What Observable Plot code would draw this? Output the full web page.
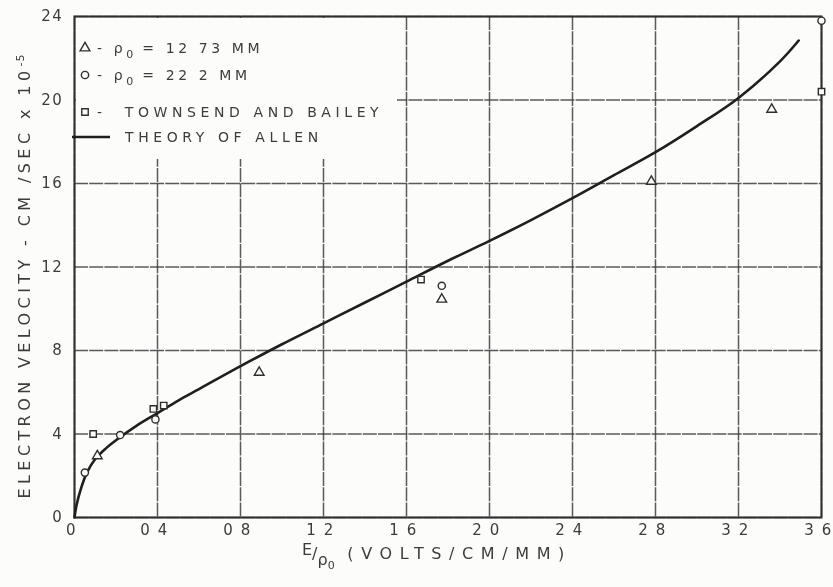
<!DOCTYPE html>
<html>
<head>
<meta charset="utf-8">
<script src="https://cdn.jsdelivr.net/npm/d3@7"></script>
<script src="https://cdn.jsdelivr.net/npm/@observablehq/plot@0.6"></script>
<style>
  html, body { margin: 0; padding: 0; background: #fcfcfb; }
  #wrap { position: relative; width: 833px; height: 587px; filter: blur(0.45px); color: #3c3c3c; font-family: "DejaVu Sans", sans-serif; }
  #wrap svg { position: absolute; left: 0; top: 0; }
  #legend { position: absolute; left: 76px; top: 18px; width: 321px; height: 141px; background: #fcfcfb; }
  .row { position: absolute; font-size: 14px; line-height: 16px; letter-spacing: 4.6px; white-space: nowrap; }
  .row.narrow { letter-spacing: 3.6px; }
  .row sub { font-size: 11px; vertical-align: -5px; letter-spacing: 1px; }
  .icon { position: absolute; }
  #ytitle { position: absolute; left: -246px; top: 266px; width: 540px; height: 20px; text-align: center;
            transform: rotate(-90deg); font-size: 16px; letter-spacing: 4.4px; white-space: nowrap; }
  #ytitle sup { font-size: 11px; letter-spacing: 1px; }
  #xtitle { position: absolute; left: 302px; top: 544px; font-size: 16px; letter-spacing: 7.6px; white-space: nowrap; }
  #xtitle .ep { letter-spacing: 0; }
</style>
</head>
<body>
<div id="wrap">
  <div id="ytitle">ELECTRON VELOCITY - CM /SEC x 10<sup>-5</sup></div>
  <div id="xtitle"><span class="ep" style="position:relative;top:-4px">E</span><span class="ep">/</span><span class="ep" style="position:relative;top:6px">ρ<sub style="font-size:11px">0</sub></span>&nbsp;(VOLTS/CM/MM)</div>
</div>
<script>
// Axis ticks and their printed labels
const xTicks = [0, 0.4, 0.8, 1.2, 1.6, 2.0, 2.4, 2.8, 3.2, 3.6];
const xTickLabels = ["0", "0 4", "0 8", "1 2", "1 6", "2 0", "2 4", "2 8", "3 2", "3 6"];
const yTicks = [0, 4, 8, 12, 16, 20, 24];
const yTickLabels = ["0", "4", "8", "12", "16", "20", "24"];

// Series names
const seriesNames = ["p0 = 12.73 MM", "p0 = 22.2 MM", "TOWNSEND AND BAILEY"];

// Measured drift velocities, p0 = 12.73 mm (triangles)
const seriesA_E = [0.11, 0.89, 1.77, 2.78, 3.36];
const seriesA_V = [2.95, 6.95, 10.45, 16.1, 19.55];

// Measured drift velocities, p0 = 22.2 mm (circles)
const seriesB_E = [0.05, 0.22, 0.39, 1.77, 3.6];
const seriesB_V = [2.15, 3.95, 4.7, 11.1, 23.8];

// Townsend and Bailey (squares)
const seriesC_E = [0.09, 0.38, 0.43, 1.67, 3.6];
const seriesC_V = [4.0, 5.2, 5.36, 11.4, 20.4];

// Theory of Allen
const theoryE = [0, 0.01, 0.03, 0.06, 0.1, 0.15, 0.2, 0.3, 0.4, 0.5, 0.6, 0.8, 1.0, 1.2, 1.4, 1.6, 1.8, 2.0, 2.2, 2.4, 2.6, 2.8, 3.0, 3.2, 3.4, 3.49];
const theoryV = [0, 0.6, 1.35, 2.15, 2.8, 3.3, 3.7, 4.4, 5.0, 5.6, 6.15, 7.25, 8.3, 9.3, 10.3, 11.3, 12.3, 13.25, 14.25, 15.3, 16.4, 17.5, 18.75, 20.1, 21.85, 22.85];

const points = [
  ...seriesA_E.map((e, i) => ({E: e, V: seriesA_V[i], set: seriesNames[0]})),
  ...seriesB_E.map((e, i) => ({E: e, V: seriesB_V[i], set: seriesNames[1]})),
  ...seriesC_E.map((e, i) => ({E: e, V: seriesC_V[i], set: seriesNames[2]}))
];
const theory = theoryE.map((e, i) => ({E: e, V: theoryV[i]}));

const ink = "#2e2e2e";
const gridStyle = {stroke: "#3d3d3d", strokeOpacity: 0.85, strokeWidth: 1.5, strokeDasharray: "14,1.2"};

const chart = Plot.plot({
  width: 833,
  height: 587,
  marginLeft: 74,
  marginRight: 12,
  marginTop: 16,
  marginBottom: 70,
  style: {fontFamily: "DejaVu Sans", fontSize: "14px", color: "#3c3c3c", background: "transparent", letterSpacing: "1.6px"},
  x: {domain: [0, 3.6]},
  y: {domain: [0, 24]},
  symbol: {domain: seriesNames, range: ["triangle", "circle", "square"]},
  marks: [
    Plot.gridX(xTicks, gridStyle),
    Plot.gridY(yTicks, gridStyle),
    Plot.axisX(xTicks, {tickSize: 0, tickPadding: 7, dx: -3, label: null, fontSize: 15, tickFormat: d => xTickLabels[xTicks.indexOf(d)]}),
    Plot.axisY(yTicks, {tickSize: 0, tickPadding: 11, label: null, fontSize: 15, tickFormat: d => yTickLabels[yTicks.indexOf(d)]}),
    Plot.frame({stroke: ink, strokeWidth: 2}),
    Plot.line(theory, {x: "E", y: "V", curve: "catmull-rom", stroke: "#1f1f1f", strokeWidth: 2.6}),
    Plot.dot(points, {x: "E", y: "V", symbol: "set", r: 3.6, stroke: ink, strokeWidth: 1.4, fill: "#fcfcfb"})
  ]
});

const wrap = document.getElementById("wrap");
wrap.insertBefore(chart, wrap.firstChild);

// Legend box drawn over the upper-left grid cells
const legend = document.createElement("div");
legend.id = "legend";
const rows = [
  {top: 30, icon: "triangle", cls: "narrow", html: "- ρ<sub>0</sub> = 12 73 MM"},
  {top: 57, icon: "circle", cls: "narrow", html: "- ρ<sub>0</sub> = 22 2 MM"},
  {top: 94, icon: "square", cls: "", html: "- &nbsp;TOWNSEND AND BAILEY"},
  {top: 119, icon: "line", cls: "", html: "THEORY OF ALLEN"}
];
const svgNS = "http://www.w3.org/2000/svg";
for (const r of rows) {
  const s = document.createElementNS(svgNS, "svg");
  s.setAttribute("class", "icon");
  if (r.icon === "line") {
    s.setAttribute("width", 40); s.setAttribute("height", 10);
    s.style.left = "-4px"; s.style.top = (r.top - 5) + "px";
    s.innerHTML = `<line x1="0" y1="5" x2="38" y2="5" stroke="#1f1f1f" stroke-width="2.6"/>`;
  } else {
    s.setAttribute("width", 16); s.setAttribute("height", 16);
    s.style.left = "1px"; s.style.top = (r.top - 8) + "px";
    const type = r.icon === "triangle" ? d3.symbolTriangle : r.icon === "circle" ? d3.symbolCircle : d3.symbolSquare;
    const sym = d3.symbol(type, 42)();
    s.innerHTML = `<path transform="translate(8,8)" d="${sym}" fill="none" stroke="${ink}" stroke-width="1.4"/>`;
  }
  legend.appendChild(s);
  const t = document.createElement("div");
  t.className = "row " + r.cls;
  t.style.top = (r.top - 8) + "px";
  t.style.left = r.icon === "line" ? "49px" : "21px";
  t.innerHTML = r.html;
  legend.appendChild(t);
}
wrap.appendChild(legend);
</script>
</body>
</html>
